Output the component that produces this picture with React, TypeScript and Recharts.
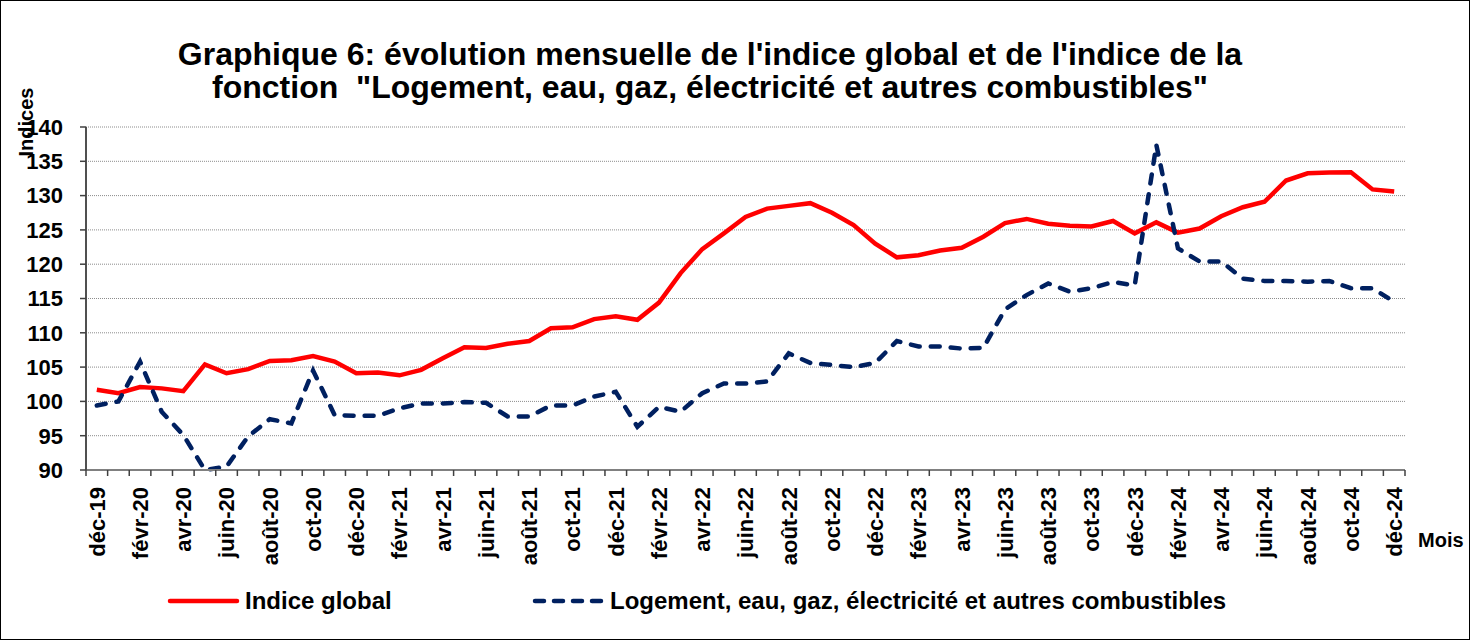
import React from "react";
import { LineChart, Line, XAxis, YAxis, CartesianGrid } from "recharts";

const MONTHS = ["janv", "févr", "mars", "avr", "mai", "juin", "juil", "août", "sept", "oct", "nov", "déc"];
const YEARS = ["20", "21", "22", "23", "24"];

// déc-19 .. déc-24
const months: string[] = ["déc-19"];
YEARS.forEach((yy) => MONTHS.forEach((m) => months.push(`${m}-${yy}`)));

const indiceGlobal = [
  101.7, 101.2, 102.1, 101.9, 101.5, 105.4, 104.1, 104.7, 105.9, 106.0, 106.6, 105.8,
  104.1, 104.2, 103.8, 104.6, 106.3, 107.9, 107.8, 108.4, 108.8, 110.65, 110.8, 112.0,
  112.4, 111.9, 114.4, 118.7, 122.2, 124.5, 126.9, 128.1, 128.5, 128.9, 127.5, 125.7,
  123.0, 121.0, 121.3, 122.0, 122.4, 124.0, 126.0, 126.6, 125.9, 125.6, 125.5, 126.3,
  124.5, 126.1, 124.6, 125.2, 127.0, 128.3, 129.1, 132.2, 133.25, 133.35, 133.4, 130.9,
  130.6,
];

const logement = [
  99.4, 100.0, 105.8, 98.5, 95.1, 90.0, 90.5, 94.9, 97.4, 96.8, 104.5, 98.0,
  97.9, 97.9, 99.0, 99.7, 99.7, 99.9, 99.8, 97.8, 97.8, 99.4, 99.4, 100.7,
  101.4, 96.3, 99.2, 98.5, 101.2, 102.6, 102.6, 102.9, 107.0, 105.6, 105.3, 105.0,
  105.6, 108.8, 108.0, 108.0, 107.7, 107.8, 113.4, 115.5, 117.2, 116.0, 116.5, 117.4,
  116.9, 137.4, 122.3, 120.4, 120.4, 117.9, 117.55, 117.55, 117.45, 117.55, 116.5, 116.5,
  114.5,
];

const yTicks = [90, 95, 100, 105, 110, 115, 120, 125, 130, 135, 140];

const data = months.map((m, i) => ({ m, global: indiceGlobal[i], logement: logement[i] }));

const FONT = "'Liberation Sans', Arial, sans-serif";
const RED = "#FF0000";
const NAVY = "#002060";
const BAND = 1319 / 61;

function MonthTick(props: any) {
  const { x, y, payload } = props;
  const i = payload.index;
  return (
    <g>
      <line x1={x - BAND / 2} x2={x - BAND / 2} y1={y} y2={y + 6} stroke="#404040" strokeWidth={1.5} />
      {i === months.length - 1 && (
        <line x1={x + BAND / 2} x2={x + BAND / 2} y1={y} y2={y + 6} stroke="#404040" strokeWidth={1.5} />
      )}
      {i % 2 === 0 && (
        <text
          transform={`translate(${x},${y + 17}) rotate(-90)`}
          textAnchor="end"
          dy="0.36em"
          fontFamily={FONT}
          fontWeight="bold"
          fontSize={22}
          fill="#000"
        >
          {payload.value}
        </text>
      )}
    </g>
  );
}

export default function App() {
  return (
    <div style={{ position: "absolute", left: 0, top: 0, width: 1473, height: 641, background: "#fff" }}>
      <LineChart width={1473} height={641} data={data} margin={{ top: 127, right: 68, left: 0, bottom: 0 }}>
        <CartesianGrid vertical={false} stroke="#8c8c8c" strokeDasharray="1 1" />
        <XAxis
          dataKey="m"
          interval={0}
          height={171}
          padding={{ left: BAND / 2, right: BAND / 2 }}
          tickLine={false}
          tickSize={0}
          tickMargin={0}
          tick={<MonthTick />}
          axisLine={{ stroke: "#808080", strokeWidth: 2 }}
        />
        <XAxis
          xAxisId="top"
          dataKey="m"
          orientation="top"
          height={0}
          tick={false}
          tickLine={false}
          axisLine={{ stroke: "#808080", strokeWidth: 2 }}
        />
        <YAxis
          domain={[90, 140]}
          ticks={yTicks}
          interval={0}
          width={86}
          tickSize={6}
          tickMargin={17}
          tick={{ fontFamily: FONT, fontWeight: "bold", fontSize: 22, fill: "#000" }}
          tickLine={{ stroke: "#404040", strokeWidth: 1.5 }}
          axisLine={{ stroke: "#505050", strokeWidth: 2 }}
        />
        <YAxis
          yAxisId="right"
          orientation="right"
          domain={[90, 140]}
          width={0}
          tick={false}
          tickLine={false}
          axisLine={{ stroke: "#808080", strokeWidth: 2 }}
        />
        <Line
          dataKey="global"
          type="linear"
          stroke={RED}
          strokeWidth={4.5}
          dot={false}
          isAnimationActive={false}
        />
        <Line
          dataKey="logement"
          type="linear"
          stroke={NAVY}
          strokeWidth={4.5}
          strokeDasharray="9 11"
          strokeLinecap="round"
          dot={false}
          isAnimationActive={false}
        />
      </LineChart>

      <svg
        width={1473}
        height={641}
        style={{ position: "absolute", left: 0, top: 0, pointerEvents: "none" }}
        fontFamily={FONT}
        fontWeight="bold"
      >
        <rect x={0.5} y={0.5} width={1469} height={639} fill="none" stroke="#000" strokeWidth={1} />
        <text x={710} y={65} textAnchor="middle" fontSize={32} fill="#000">
          Graphique 6: évolution mensuelle de l'indice global et de l'indice de la
        </text>
        <text x={710} y={98} textAnchor="middle" fontSize={32} fill="#000" style={{ whiteSpace: "pre" }}>
          {'fonction  "Logement, eau, gaz, électricité et autres combustibles"'}
        </text>
        <text transform="translate(33,122) rotate(-90)" textAnchor="middle" fontSize={20} fill="#000">
          Indices
        </text>
        <text x={1418} y={547} fontSize={20} fill="#000">
          Mois
        </text>

        <line x1={170} x2={237} y1={601} y2={601} stroke={RED} strokeWidth={4.5} strokeLinecap="round" />
        <text x={245} y={609} fontSize={24} fill="#000">
          Indice global
        </text>
        <line
          x1={535}
          x2={601}
          y1={601}
          y2={601}
          stroke={NAVY}
          strokeWidth={4.5}
          strokeDasharray="9 10"
          strokeLinecap="round"
        />
        <text x={610} y={609} fontSize={24} fill="#000">
          Logement, eau, gaz, électricité et autres combustibles
        </text>
      </svg>
    </div>
  );
}
